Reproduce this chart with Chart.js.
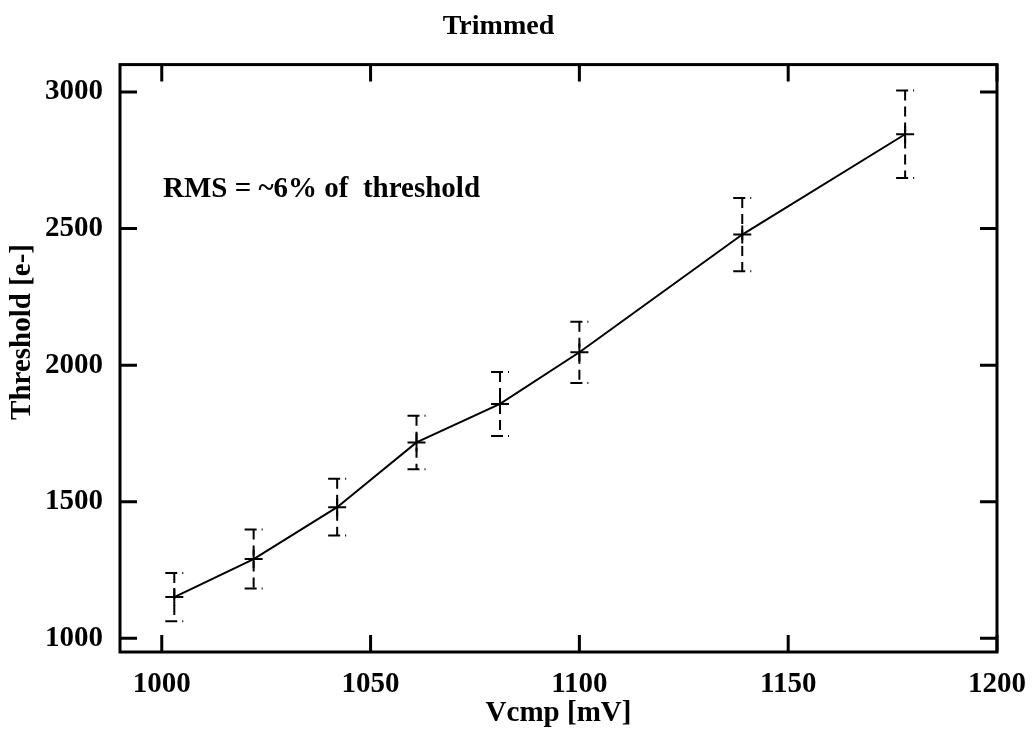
<!DOCTYPE html>
<html>
<head>
<meta charset="utf-8">
<title>Trimmed</title>
<script src="https://cdn.jsdelivr.net/npm/chart.js@4.4.1/dist/chart.umd.min.js"></script>
<style>
  html, body { margin: 0; padding: 0; background: #fff; }
  canvas { display: block; }
</style>
</head>
<body>
<canvas id="myChart" width="1035" height="731"></canvas>
<script>
// data
const vcmp = [1003, 1022, 1042, 1061, 1081, 1100, 1139, 1178];
const threshold = [1151, 1290, 1480, 1717, 1858, 2047, 2478, 2845];
const rms = [88, 108, 104, 98, 117, 112, 134, 160];

const xTicks = [1000, 1050, 1100, 1150, 1200];
const yTicks = [1000, 1500, 2000, 2500, 3000];

const fontFam = '"Liberation Serif", "Times New Roman", serif';

const points = vcmp.map((v, i) => ({ x: v, y: threshold[i] }));

// dashed error bars under the line
const errorBars = {
  id: 'errorBars',
  beforeDatasetsDraw(chart) {
    const ctx = chart.ctx;
    const xs = chart.scales.x, ys = chart.scales.y;
    ctx.save();
    ctx.strokeStyle = '#000';
    ctx.lineWidth = 2;
    vcmp.forEach((v, i) => {
      const px = xs.getPixelForValue(v);
      const top = ys.getPixelForValue(threshold[i] + rms[i]);
      const bot = ys.getPixelForValue(threshold[i] - rms[i]);
      ctx.setLineDash([10, 6]);
      ctx.beginPath();
      ctx.moveTo(px, top);
      ctx.lineTo(px, bot);
      ctx.stroke();
      ctx.setLineDash([12, 5]);
      [top, bot].forEach(py => {
        ctx.beginPath();
        ctx.moveTo(px - 9, py);
        ctx.lineTo(px + 9, py);
        ctx.stroke();
      });
    });
    ctx.restore();
  }
};

// frame, inner ticks, annotation and y title
const frame = {
  id: 'frame',
  afterDraw(chart) {
    const ctx = chart.ctx;
    const a = chart.chartArea;
    const xs = chart.scales.x, ys = chart.scales.y;
    const tl = 17;
    ctx.save();
    ctx.strokeStyle = '#000';
    ctx.lineWidth = 3;
    ctx.setLineDash([]);
    ctx.strokeRect(a.left, a.top, a.right - a.left, a.bottom - a.top);
    ctx.beginPath();
    xTicks.forEach(t => {
      const px = xs.getPixelForValue(t);
      ctx.moveTo(px, a.bottom); ctx.lineTo(px, a.bottom - tl);
      ctx.moveTo(px, a.top); ctx.lineTo(px, a.top + tl);
    });
    yTicks.forEach(t => {
      const py = ys.getPixelForValue(t);
      ctx.moveTo(a.left, py); ctx.lineTo(a.left + tl, py);
      ctx.moveTo(a.right, py); ctx.lineTo(a.right - tl, py);
    });
    ctx.stroke();

    ctx.fillStyle = '#000';
    ctx.font = 'bold 29px ' + fontFam;
    ctx.textAlign = 'left';
    ctx.textBaseline = 'alphabetic';
    ctx.fillText('RMS = ~6% of  threshold', a.left + 43, a.top + 132);

    ctx.translate(23, 332);
    ctx.rotate(-Math.PI / 2);
    ctx.textAlign = 'center';
    ctx.textBaseline = 'middle';
    ctx.fillText('Threshold [e-]', 0, 0);
    ctx.restore();
  }
};

const ctx = document.getElementById('myChart');

new Chart(ctx, {
  type: 'scatter',
  data: {
    datasets: [{
      data: points,
      showLine: true,
      borderColor: '#000',
      borderWidth: 2,
      pointStyle: 'cross',
      pointRadius: 9,
      pointBorderWidth: 2,
      pointBorderColor: '#000',
      pointHoverRadius: 9
    }]
  },
  options: {
    responsive: false,
    animation: false,
    layout: { autoPadding: false, padding: { top: 0, right: 38, bottom: 0, left: 0 } },
    plugins: {
      legend: { display: false },
      tooltip: { enabled: false },
      title: {
        display: true,
        text: 'Trimmed',
        color: '#000',
        font: { family: fontFam, size: 28, weight: 'bold' },
        padding: { top: 10, bottom: 21 }
      }
    },
    scales: {
      x: {
        type: 'linear',
        min: 990,
        max: 1200,
        grid: { display: false },
        border: { display: false },
        afterBuildTicks: s => { s.ticks = xTicks.map(v => ({ value: v })); },
        afterFit: s => { s.height = 79; },
        ticks: {
          color: '#000',
          padding: 7,
          maxRotation: 0,
          callback: v => String(v),
          font: { family: fontFam, size: 29, weight: 'bold' }
        },
        title: {
          display: true,
          text: 'Vcmp [mV]',
          color: '#000',
          padding: { top: 0, bottom: 0 },
          font: { family: fontFam, size: 29, weight: 'bold' }
        }
      },
      y: {
        type: 'linear',
        min: 950,
        max: 3100,
        grid: { display: false },
        border: { display: false },
        afterBuildTicks: s => { s.ticks = yTicks.map(v => ({ value: v })); },
        afterFit: s => { s.width = 120; },
        ticks: {
          color: '#000',
          padding: 9,
          callback: v => String(v),
          font: { family: fontFam, size: 29, weight: 'bold' }
        }
      }
    }
  },
  plugins: [errorBars, frame]
});
</script>
</body>
</html>
